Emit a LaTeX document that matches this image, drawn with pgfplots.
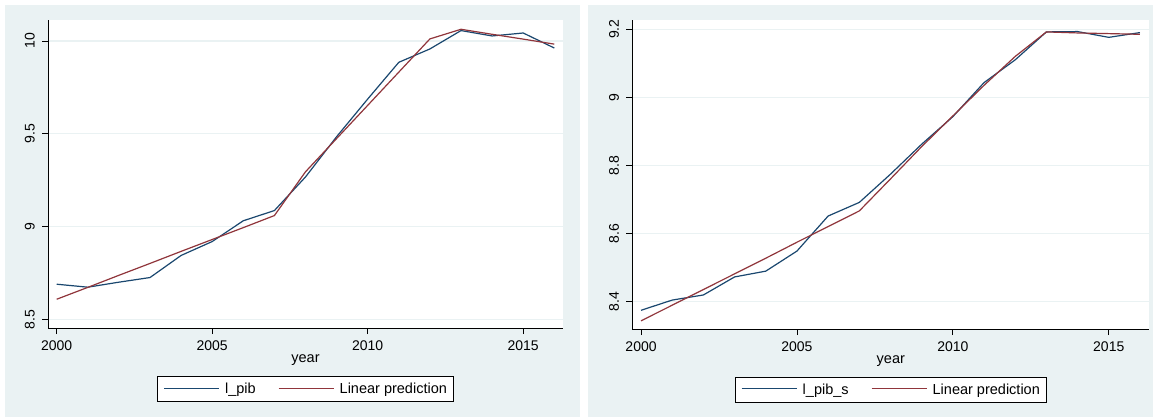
\documentclass[border=0pt]{standalone}
\usepackage{fontspec}
\setmainfont{Liberation Sans}
\usepackage{pgfplots}
\pgfplotsset{compat=1.18}
\definecolor{stbg}{HTML}{EAF2F3}
\definecolor{stblue}{HTML}{1A476F}
\definecolor{stred}{HTML}{90353B}
\newcommand{\legline}[1]{{\color{#1}\rule[0.33em]{55pt}{1.1pt}}\hspace{6pt}}

\pgfplotsset{
 stata/.style={
  scale only axis,
  axis x line*=bottom, axis y line*=left,
  axis line style={black, line width=0.9pt, -},
  axis background/.style={fill=white},
  tick align=outside, major tick length=6pt,
  tick style={black, line width=0.8pt},
  xtick={2000,2005,2010,2015},
  xmin=1999.72, xmax=2016.28,
  /pgf/number format/1000 sep={},
  /pgf/number format/assume math mode=true,
  ymajorgrids, grid style={stbg, line width=1.2pt},
  ticklabel style={font=\fontsize{14}{16}\selectfont},
  xticklabel style={anchor=north, inner sep=0pt},
  yticklabel style={rotate=90, anchor=south, inner sep=0pt},
  xticklabel shift=7pt, yticklabel shift=7pt,
  xlabel={year},
  xlabel style={font=\fontsize{14.5}{17}\selectfont, at={(axis description cs:0.5,0)}, anchor=base, yshift=-34.5pt, inner sep=0pt},
  legend columns=2,
  legend cell align=left,
  legend image code/.code={},
  legend style={anchor=north, fill=white, draw=black, line width=0.8pt,
    font=\fontsize{14.5}{17}\selectfont, inner xsep=3pt, inner ysep=3pt,
    nodes={inner xsep=3.5pt, inner ysep=3.7pt},
    /tikz/every even column/.append style={column sep=16pt}},
 },
 bl/.style={draw=stblue, line width=1.2pt, no markers},
 rd/.style={draw=stred, line width=1.2pt, no markers},
}

\begin{document}
\begin{tikzpicture}
\fill[white] (0pt,0pt) rectangle (1153pt,-419pt);
\fill[stbg] (5pt,-5pt) rectangle (580pt,-417pt);
\fill[stbg] (588pt,-5pt) rectangle (1153pt,-417pt);

\begin{axis}[stata, at={(48pt,-328pt)}, anchor=south west,
  width=515pt, height=308pt,
  ymin=8.453, ymax=10.113, ytick={8.5,9,9.5,10},
  legend style={at={(0.5,-0.156)}}]
\addplot[bl] coordinates {
(2000,8.689) (2001,8.673) (2002,8.700) (2003,8.725) (2004,8.844) (2005,8.919)
(2006,9.031) (2007,9.086) (2008,9.267) (2009,9.484) (2010,9.687) (2011,9.885)
(2012,9.957) (2013,10.056) (2014,10.027) (2015,10.043) (2016,9.962)};
\addlegendentry{\legline{stblue}l\_pib}
\addplot[rd] coordinates {
(2000,8.608) (2001,8.672) (2002,8.737) (2003,8.801) (2004,8.866) (2005,8.930)
(2006,8.994) (2007,9.059) (2008,9.295) (2009,9.474) (2010,9.653) (2011,9.832)
(2012,10.011) (2013,10.063) (2014,10.036) (2015,10.010) (2016,9.983)};
\addlegendentry{\legline{stred}Linear prediction}
\end{axis}

\begin{axis}[stata, at={(632.3pt,-329pt)}, anchor=south west,
  width=517pt, height=309pt,
  xmax=2016.30,
  ymin=8.319, ymax=9.227, ytick={8.4,8.6,8.8,9,9.2},
  legend style={at={(0.5,-0.154)}}]
\addplot[bl] coordinates {
(2000,8.374) (2001,8.404) (2002,8.419) (2003,8.472) (2004,8.489) (2005,8.548)
(2006,8.651) (2007,8.691) (2008,8.774) (2009,8.862) (2010,8.943) (2011,9.043)
(2012,9.110) (2013,9.192) (2014,9.193) (2015,9.176) (2016,9.190)};
\addlegendentry{\legline{stblue}l\_pib\_s}
\addplot[rd] coordinates {
(2000,8.343) (2001,8.389) (2002,8.435) (2003,8.481) (2004,8.527) (2005,8.574)
(2006,8.620) (2007,8.666) (2008,8.760) (2009,8.855) (2010,8.945) (2011,9.035)
(2012,9.120) (2013,9.192) (2014,9.189) (2015,9.187) (2016,9.185)};
\addlegendentry{\legline{stred}Linear prediction}
\end{axis}

\pgfresetboundingbox
\path[use as bounding box] (0pt,0pt) rectangle (1153pt,-419pt);
\end{tikzpicture}
\end{document}
